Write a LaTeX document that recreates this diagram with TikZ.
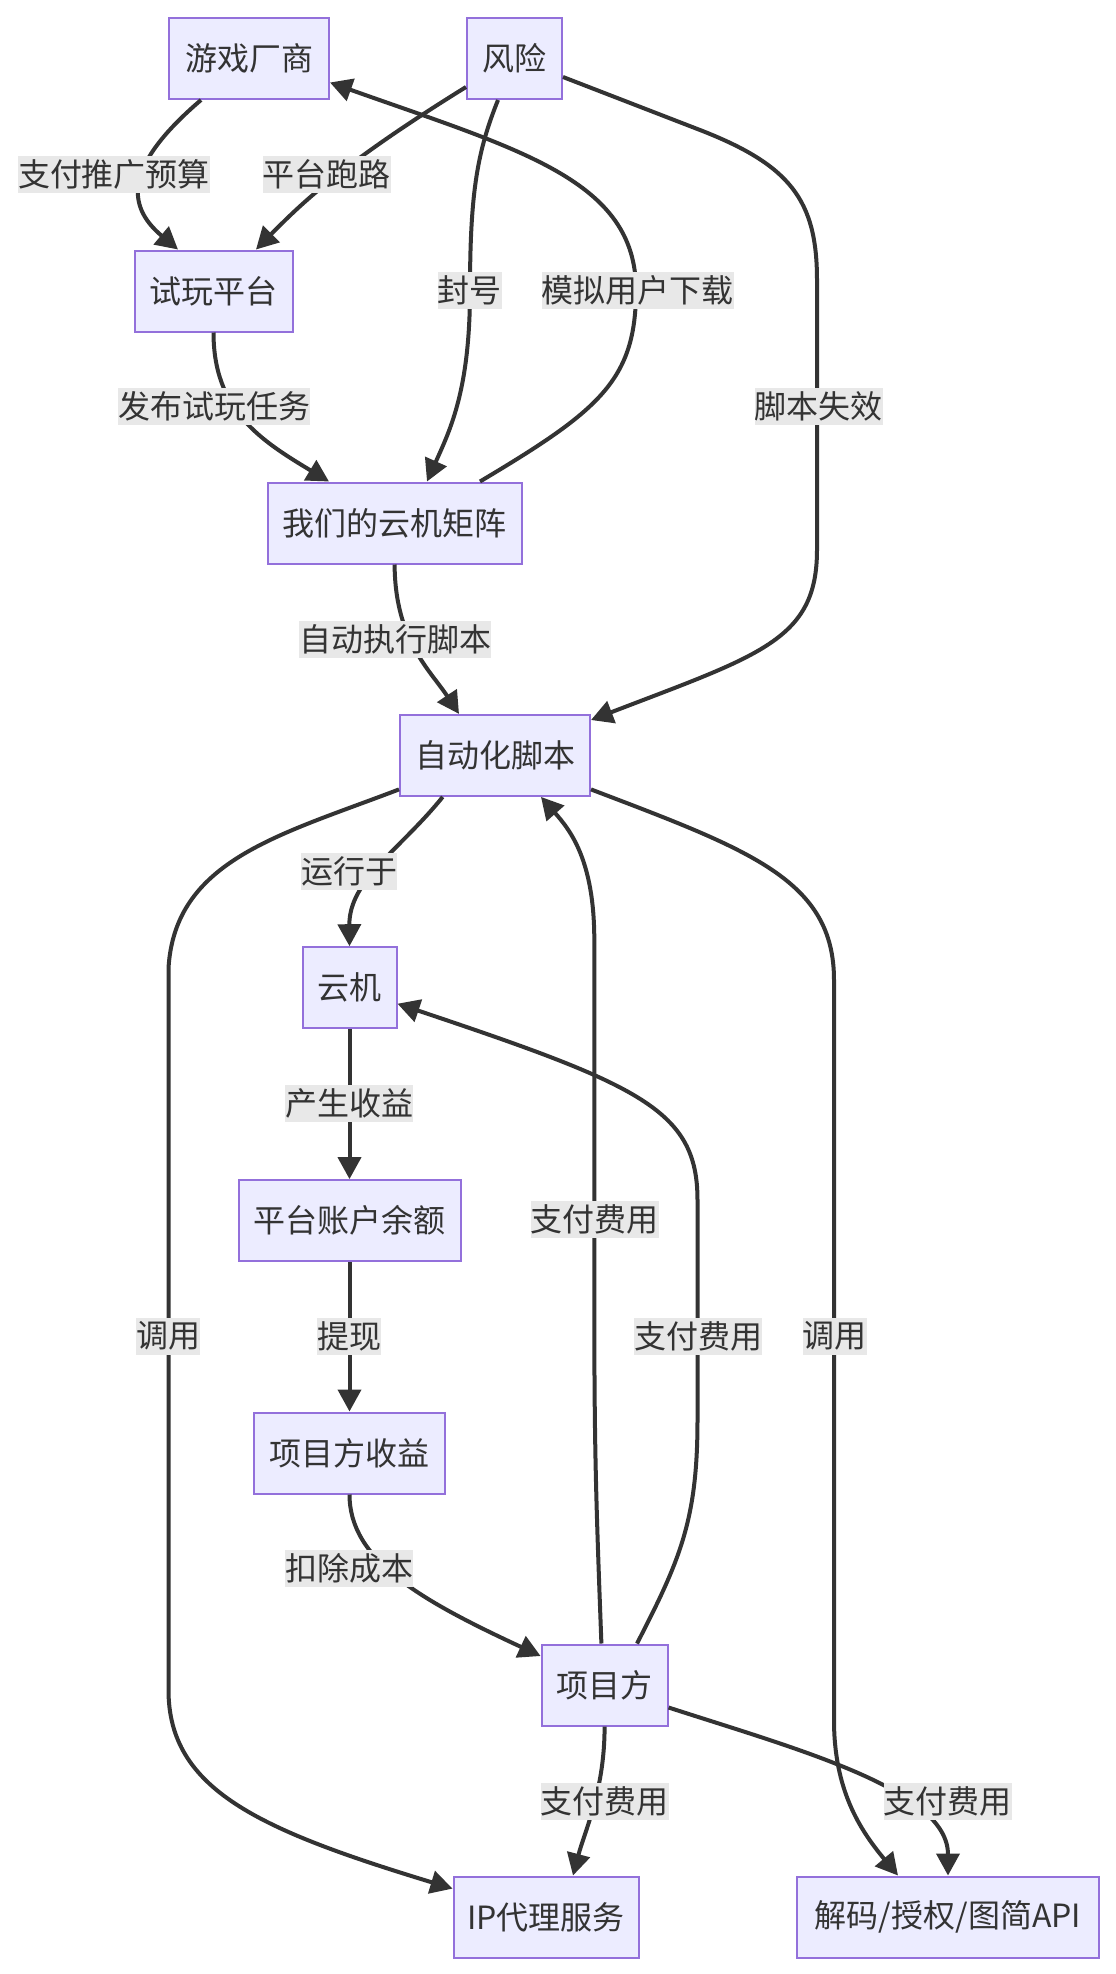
\documentclass[tikz,border=0pt]{standalone}
\usepackage{fontspec}
\setmainfont{Noto Sans CJK SC}
\usetikzlibrary{arrows.meta}
\definecolor{nodefill}{HTML}{ECECFF}
\definecolor{nodeline}{HTML}{9370DB}
\definecolor{edgecol}{HTML}{333333}
\definecolor{lblbg}{HTML}{E8E8E8}
\definecolor{txt}{HTML}{333333}
\begin{document}
\begin{tikzpicture}[x=1pt,y=-1pt,
 box/.style={draw=nodeline, fill=nodefill, line width=2pt, minimum height=81pt, inner sep=0pt, text=txt, font=\fontsize{32}{38}\selectfont},
 lbl/.style={fill=lblbg, inner xsep=0pt, inner ysep=0pt, minimum height=37pt, text=txt, font=\fontsize{32}{38}\selectfont},
 conn/.style={draw=edgecol, line width=4pt, -{Triangle[length=22pt,width=23pt]}}]
\fill[white] (0,0) rectangle (1116,1974);
\useasboundingbox (0,0) rectangle (1116,1974);
% nodes
\node[box, minimum width=160pt] (game) at (249,58.5) {游戏厂商};
\node[box, minimum width=95pt] (risk) at (514.5,58.5) {风险};
\node[box, minimum width=158pt] (trial) at (213.5,291) {试玩平台};
\node[box, minimum width=254pt] (matrix) at (394.6,523) {我们的云机矩阵};
\node[box, minimum width=190pt] (script) at (495,755.4) {自动化脚本};
\node[box, minimum width=94pt] (cloud) at (349.5,987.7) {云机};
\node[box, minimum width=222pt] (balance) at (349.5,1220.6) {平台账户余额};
\node[box, minimum width=191pt] (income) at (349.5,1453) {项目方收益};
\node[box, minimum width=126pt] (proj) at (604.6,1685) {项目方};
\node[box, minimum width=185pt] (ip) at (546,1917) {IP代理服务};
\node[box, minimum width=302pt] (api) at (948,1917) {解码/授权/图简API};
% edges
\draw[conn] ([xshift=-48pt]game.south) .. controls (125,165) and (125,205) .. ([xshift=-35.5pt]trial.north);
\draw[conn] ([yshift=-28.5pt]risk.west) .. controls (340,165) and (300,205) .. ([xshift=42.5pt]trial.north);
\draw[conn] (trial.south) .. controls (213.5,410) and (260,440) .. ([xshift=-65.6pt]matrix.north);
\draw[conn] ([xshift=-16.5pt]risk.south) .. controls (478,150) and (470,190) .. (470,290) .. controls (470,390) and (450,430) .. ([xshift=32.4pt]matrix.north);
\draw[conn] ([xshift=85.4pt]matrix.north) .. controls (600,410) and (636,380) .. (636,290) .. controls (636,180) and (520,150) .. ([yshift=-24pt]game.east);
\draw[conn] ([yshift=-18.5pt]risk.east) -- (700,130) .. controls (790,165) and (817,200) .. (817,280) -- (817,550) .. controls (817,640) and (760,655) .. ([yshift=35.4pt]script.east);
\draw[conn] (matrix.south) .. controls (395,640) and (430,670) .. ([xshift=-36pt]script.north);
\draw[conn] ([xshift=-52.3pt]script.south) .. controls (400,850) and (349,880) .. (cloud.north);
\draw[conn] (cloud.south) -- (balance.north);
\draw[conn] (balance.south) -- (income.north);
\draw[conn] (income.south) .. controls (349.5,1560) and (420,1600) .. ([yshift=29pt]proj.west);
\draw[conn] ([xshift=-3.2pt]proj.north) .. controls (596,1500) and (594.3,1450) .. (594.3,1300) -- (594.3,940) .. controls (594.3,860) and (570,830) .. ([xshift=46pt]script.south);
\draw[conn] ([xshift=32.4pt]proj.north) .. controls (680,1560) and (697.5,1520) .. (697.5,1420) -- (697.5,1200) .. controls (697.5,1110) and (640,1085) .. ([yshift=-16pt]cloud.east);
\draw[conn] ([yshift=-34pt]script.west) .. controls (280,835) and (175,860) .. (168.5,968) -- (168.5,1690) .. controls (168.5,1790) and (260,1830) .. ([yshift=28.4pt]ip.west);
\draw[conn] ([yshift=-34pt]script.east) .. controls (750,850) and (834,880) .. (834,980) -- (834,1720) .. controls (834,1790) and (860,1830) .. ([xshift=-50pt]api.north);
\draw[conn] (proj.south) .. controls (604.6,1790) and (585,1830) .. ([xshift=27pt]ip.north);
\draw[conn] ([yshift=-22.5pt]proj.east) .. controls (800,1750) and (948,1790) .. (api.north);
% labels
\node[lbl] (l1) at (114,174) {支付推广预算};
\node[lbl] (l2) at (326.7,174) {平台跑路};
\node[lbl] (l3) at (469.6,290) {封号};
\node[lbl] (l4) at (637.7,290) {模拟用户下载};
\node[lbl] (l5) at (214,406.6) {发布试玩任务};
\node[lbl] (l6) at (818.5,406.6) {脚本失效};
\node[lbl] (l7) at (395,639) {自动执行脚本};
\node[lbl] (l8) at (349,871) {运行于};
\node[lbl] (l9) at (349,1103) {产生收益};
\node[lbl] (l10) at (594.5,1219.6) {支付费用};
\node[lbl] (l11) at (168.3,1336) {调用};
\node[lbl] (l12) at (349,1336) {提现};
\node[lbl] (l13) at (698.4,1336) {支付费用};
\node[lbl] (l14) at (834.5,1336) {调用};
\node[lbl] (l15) at (349,1568) {扣除成本};
\node[lbl] (l16) at (604.6,1801) {支付费用};
\node[lbl] (l17) at (947.7,1801) {支付费用};
\end{tikzpicture}
\end{document}
